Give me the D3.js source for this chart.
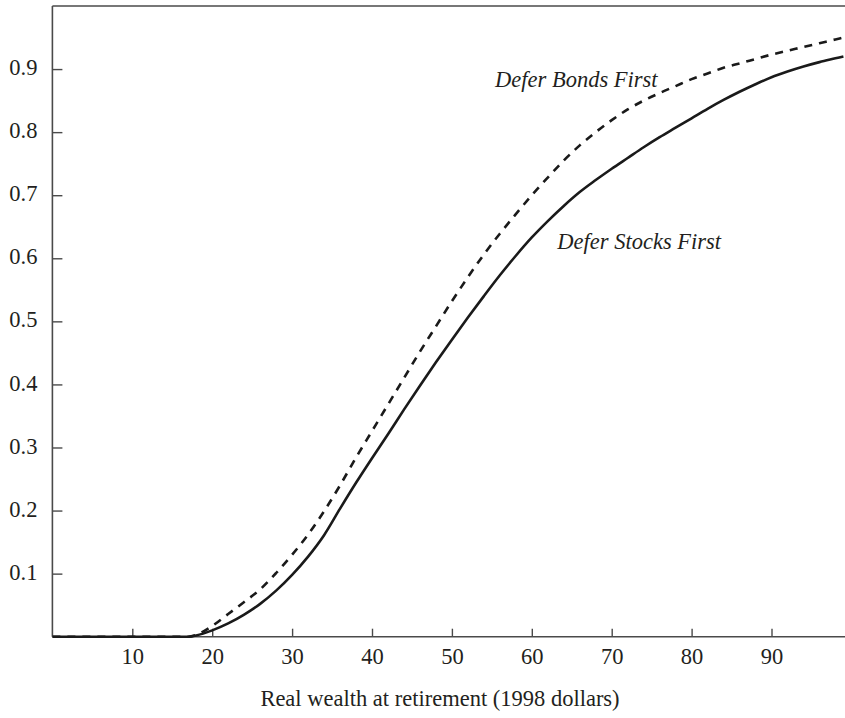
<!DOCTYPE html>
<html>
<head>
<meta charset="utf-8">
<script src="https://cdn.jsdelivr.net/npm/d3@7"></script>
<style>
  html, body { margin: 0; padding: 0; background: #fff; }
  svg { display: block; }
  text { font-family: "Liberation Serif", "Times New Roman", serif; fill: #231f20; }
</style>
</head>
<body>
<svg id="chart" width="845" height="718"></svg>
<script>
// ---- data ----
const wealth = [0, 5, 10, 15, 17, 18, 20, 22, 24, 26, 28, 30, 32, 34, 36, 38, 40, 42, 44, 46, 48, 50,
  52, 54, 56, 58, 60, 62, 64, 66, 68, 70, 72, 74, 76, 78, 80, 82, 84, 86, 88, 90, 92, 94, 96, 98, 99];
const deferStocksFirst = [0, 0, 0, 0, 0, 0.002, 0.010, 0.021, 0.035, 0.052, 0.073, 0.098, 0.127, 0.161, 0.203, 0.244, 0.283, 0.321, 0.360, 0.398, 0.435, 0.471,
  0.506, 0.540, 0.573, 0.604, 0.633, 0.659, 0.683, 0.705, 0.724, 0.742, 0.759, 0.776, 0.792, 0.807, 0.822, 0.837, 0.851, 0.864, 0.876, 0.887, 0.896, 0.904, 0.911, 0.917, 0.920];
const deferBondsFirst = [0, 0, 0, 0, 0, 0.003, 0.017, 0.036, 0.055, 0.075, 0.101, 0.130, 0.162, 0.199, 0.240, 0.284, 0.326, 0.368, 0.410, 0.452, 0.492, 0.532,
  0.570, 0.606, 0.639, 0.670, 0.700, 0.728, 0.755, 0.779, 0.800, 0.819, 0.836, 0.850, 0.862, 0.873, 0.884, 0.893, 0.902, 0.909, 0.916, 0.923, 0.929, 0.935, 0.941, 0.947, 0.950];
const xTicks = [10, 20, 30, 40, 50, 60, 70, 80, 90];
const yTicks = [0.1, 0.2, 0.3, 0.4, 0.5, 0.6, 0.7, 0.8, 0.9];
const xTitle = "Real wealth at retirement (1998 dollars)";
const seriesLabels = ["Defer Bonds First", "Defer Stocks First"];
const labelAnchors = [[55.4, 0.871], [63.2, 0.614]];

// ---- layout ----
const svg = d3.select("#chart");
const mLeft = 52.4, mRight = 851.4, mTop = 6, mBottom = 636.7;
const x = d3.scaleLinear().domain([0, 100]).range([mLeft, mRight]);
const y = d3.scaleLinear().domain([0, 1]).range([mBottom, mTop]);
const axisColor = "#4a4a4a";
const fontSize = 22.5;

svg.append("defs").append("clipPath").attr("id", "plot")
  .append("rect").attr("x", mLeft).attr("y", mTop - 2).attr("width", 845 - mLeft).attr("height", mBottom - mTop + 4);

// frame: top line
svg.append("line").attr("x1", mLeft).attr("x2", 845).attr("y1", mTop).attr("y2", mTop)
  .attr("stroke", axisColor).attr("stroke-width", 1.6);

// x axis
const gx = svg.append("g").attr("transform", `translate(0,${mBottom})`)
  .call(d3.axisBottom(x).tickValues(xTicks).tickSize(-8).tickPadding(11).tickFormat(d3.format("d")));
gx.select(".domain").remove();
gx.append("line").attr("x1", mLeft).attr("x2", 845).attr("y1", 0).attr("y2", 0)
  .attr("stroke", axisColor).attr("stroke-width", 1.6);
gx.selectAll(".tick line").attr("stroke", axisColor).attr("stroke-width", 1.4);
gx.selectAll(".tick text").attr("font-size", fontSize).attr("fill", "#231f20")
  .attr("font-family", "Liberation Serif, serif");

// y axis
const gy = svg.append("g").attr("transform", `translate(${mLeft},0)`)
  .call(d3.axisLeft(y).tickValues(yTicks).tickSize(-10).tickPadding(15).tickFormat(d3.format(".1f")));
gy.select(".domain").remove();
gy.append("line").attr("x1", 0).attr("x2", 0).attr("y1", mTop).attr("y2", mBottom)
  .attr("stroke", axisColor).attr("stroke-width", 1.6);
gy.selectAll(".tick line").attr("stroke", axisColor).attr("stroke-width", 1.4);
gy.selectAll(".tick text").attr("font-size", fontSize).attr("fill", "#231f20")
  .attr("font-family", "Liberation Serif, serif").attr("dy", "0.25em");

// lines
const line = d3.line().x(d => x(d[0])).y(d => y(d[1])).curve(d3.curveMonotoneX);
const plot = svg.append("g").attr("clip-path", "url(#plot)");
plot.append("path").datum(wealth.map((w, i) => [w, deferBondsFirst[i]]))
  .attr("d", line).attr("fill", "none").attr("stroke", "#1a1a1a")
  .attr("stroke-width", 2.6).attr("stroke-dasharray", "8,7");
plot.append("path").datum(wealth.map((w, i) => [w, deferStocksFirst[i]]))
  .attr("d", line).attr("fill", "none").attr("stroke", "#1a1a1a")
  .attr("stroke-width", 2.6);

// series labels
seriesLabels.forEach((t, i) => {
  svg.append("text").attr("x", x(labelAnchors[i][0])).attr("y", y(labelAnchors[i][1]))
    .attr("font-size", fontSize).attr("font-style", "italic").text(t);
});

// x title
svg.append("text").attr("x", 440).attr("y", 706).attr("text-anchor", "middle")
  .attr("font-size", fontSize).text(xTitle);
</script>
</body>
</html>
